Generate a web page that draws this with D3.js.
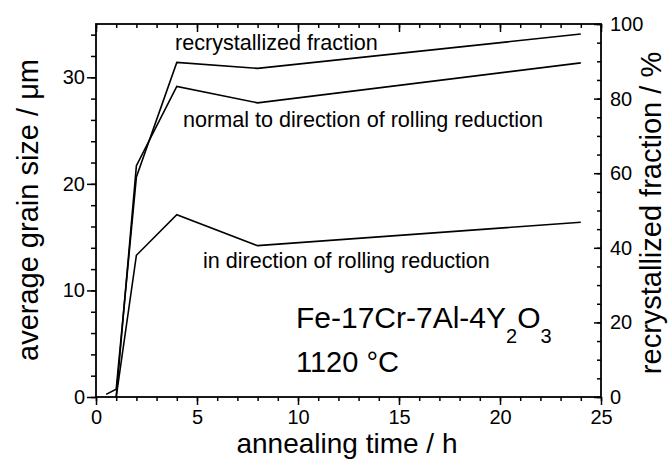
<!DOCTYPE html>
<html><head><meta charset="utf-8">
<script src="https://cdn.jsdelivr.net/npm/d3@7"></script>
<style>
body{margin:0;background:#fff;}
svg{display:block;font-family:"Liberation Sans",Arial,sans-serif;}
</style></head>
<body><svg id="c" width="668" height="460"></svg>
<script>
// ---- data ----
const recrystTime = [0.5, 1, 2, 4, 8, 24];
const recrystFraction = [0.7, 2.1, 59, 89.7, 88.1, 97.3];      // %
const grainTime = [1, 2, 4, 8, 24];
const grainNormal = [0, 21.7, 29.15, 27.6, 31.35];               // µm
const grainInDir = [0, 13.3, 17.1, 14.2, 16.4];                  // µm
const xTicks = [0, 5, 10, 15, 20, 25];
const yLeftTicks = [0, 10, 20, 30];
const yRightTicks = [0, 20, 40, 60, 80, 100];

const svg = d3.select("#c");
const L = 96, R = 601, T = 24, B = 397;
const x = d3.scaleLinear().domain([0, 25]).range([L, R]);
const yL = d3.scaleLinear().domain([0, 35]).range([B, T]);
const yR = d3.scaleLinear().domain([0, 100]).range([B, T]);

function styleAxis(g){
  g.select(".domain").remove();
  g.selectAll(".tick line").attr("stroke","#000").attr("stroke-width",1.5);
  g.selectAll(".tick text").attr("fill","#000").style("font-size","20px")
    .style("font-family","'Liberation Sans',Arial,sans-serif");
}
// minor ticks
svg.append("g").attr("transform",`translate(0,${B})`)
  .call(d3.axisBottom(x).tickValues(d3.range(0,26,1)).tickSize(4).tickFormat("")).call(styleAxis);
svg.append("g").attr("transform",`translate(0,${T})`)
  .call(d3.axisTop(x).tickValues(d3.range(0,26,1)).tickSize(-4).tickFormat("")).call(styleAxis);
svg.append("g").attr("transform",`translate(${L},0)`)
  .call(d3.axisLeft(yL).tickValues(d3.range(0,35,2)).tickSize(5).tickFormat("")).call(styleAxis);
svg.append("g").attr("transform",`translate(${R},0)`)
  .call(d3.axisRight(yR).tickValues(d3.range(0,101,5)).tickSize(-4).tickFormat("")).call(styleAxis);
// major ticks
svg.append("g").attr("transform",`translate(0,${B})`)
  .call(d3.axisBottom(x).tickValues(xTicks).tickSize(8).tickPadding(5).tickFormat(d3.format("d"))).call(styleAxis);
svg.append("g").attr("transform",`translate(0,${T})`)
  .call(d3.axisTop(x).tickValues(xTicks).tickSize(-8).tickFormat("")).call(styleAxis);
svg.append("g").attr("transform",`translate(${L},0)`)
  .call(d3.axisLeft(yL).tickValues(yLeftTicks).tickSize(9).tickPadding(2).tickFormat(d3.format("d"))).call(styleAxis);
svg.append("g").attr("transform",`translate(${R},0)`)
  .call(d3.axisRight(yR).tickValues(yRightTicks).tickSize(-7).tickPadding(9).tickFormat(d3.format("d"))).call(styleAxis);

// frame
svg.append("rect").attr("x",L).attr("y",T).attr("width",R-L).attr("height",B-T)
  .attr("fill","none").attr("stroke","#000").attr("stroke-width",1.8);

// lines
const lineL = d3.line().x(d=>x(d[0])).y(d=>yL(d[1]));
const lineR = d3.line().x(d=>x(d[0])).y(d=>yR(d[1]));
svg.append("path").datum(d3.zip(recrystTime, recrystFraction)).attr("d",lineR)
  .attr("fill","none").attr("stroke","#000").attr("stroke-width",1.6);
svg.append("path").datum(d3.zip(grainTime, grainNormal)).attr("d",lineL)
  .attr("fill","none").attr("stroke","#000").attr("stroke-width",1.6);
svg.append("path").datum(d3.zip(grainTime, grainInDir)).attr("d",lineL)
  .attr("fill","none").attr("stroke","#000").attr("stroke-width",1.6);

// axis titles
svg.append("text").attr("x",347).attr("y",453).attr("text-anchor","middle")
  .style("font-size","28px").text("annealing time / h");
svg.append("text").attr("transform","translate(38,210) rotate(-90)").attr("text-anchor","middle")
  .style("font-size","29px").text("average grain size / μm");
svg.append("text").attr("transform","translate(661,213) rotate(-90)").attr("text-anchor","middle")
  .style("font-size","29px").text("recrystallized fraction / %");

// annotations
svg.append("text").attr("x",175).attr("y",50).style("font-size","21.6px").text("recrystallized fraction");
svg.append("text").attr("x",183).attr("y",127).style("font-size","21.6px").text("normal to direction of rolling reduction");
svg.append("text").attr("x",203).attr("y",268).style("font-size","21.6px").text("in direction of rolling reduction");
const t1 = svg.append("text").attr("x",296).attr("y",328).style("font-size","30px");
t1.append("tspan").text("Fe-17Cr-7Al-4Y");
t1.append("tspan").attr("dy",15).style("font-size","20px").text("2");
t1.append("tspan").attr("dy",-15).text("O");
t1.append("tspan").attr("dy",15).style("font-size","20px").text("3");
svg.append("text").attr("x",296).attr("y",372).style("font-size","29px").text("1120 °C");
</script></body></html>
